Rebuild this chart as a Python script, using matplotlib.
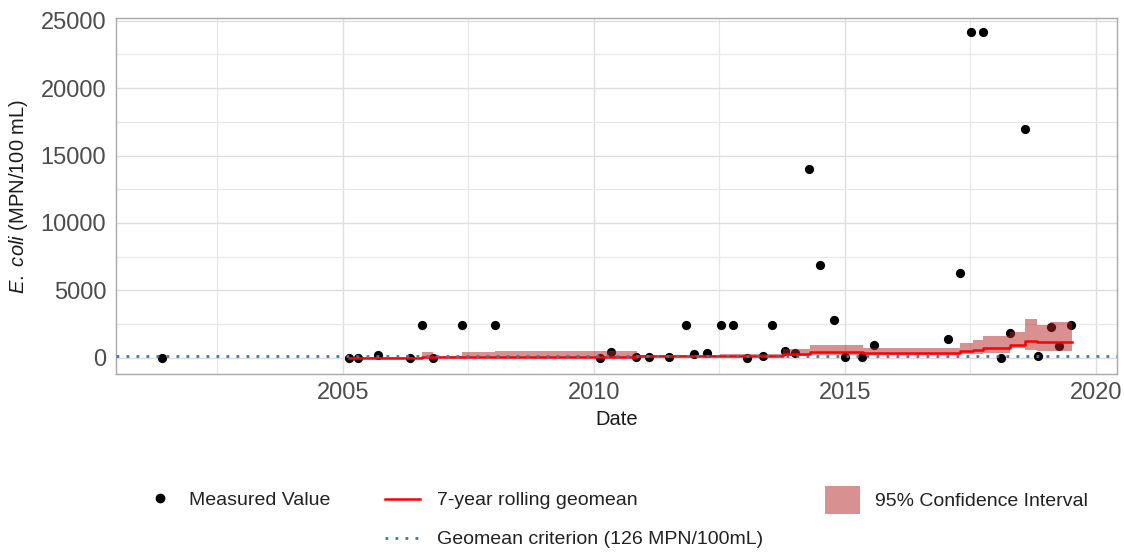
import matplotlib
matplotlib.use("Agg")
import matplotlib.pyplot as plt
from matplotlib.lines import Line2D
from matplotlib.patches import Patch
from matplotlib.ticker import MultipleLocator

plt.rcParams['font.family'] = ['Liberation Sans', 'DejaVu Sans']
plt.rcParams['mathtext.fontset'] = 'custom'
plt.rcParams['mathtext.rm'] = 'Liberation Sans'
plt.rcParams['mathtext.it'] = 'Liberation Sans:italic'

# measured E. coli samples (decimal year, MPN/100 mL)
meas_year = [2001.4, 2005.12, 2005.3, 2005.7, 2006.33, 2006.57, 2006.8, 2007.37, 2008.03,
             2010.12, 2010.34, 2010.84, 2011.1, 2011.5, 2011.83, 2012.0, 2012.25, 2012.53,
             2012.77, 2013.05, 2013.37, 2013.55, 2013.8, 2014.0, 2014.28, 2014.5, 2014.78,
             2015.0, 2015.35, 2015.58, 2017.05, 2017.3, 2017.52, 2017.76, 2018.1, 2018.28,
             2018.58, 2018.84, 2019.1, 2019.27, 2019.5]
meas_val = [10, 10, 10, 220, 20, 2420, 10, 2420, 2420,
            20, 440, 30, 30, 30, 2420, 300, 370, 2420,
            2420, 10, 100, 2420, 520, 370, 14000, 6900, 2800,
            30, 80, 960, 1400, 6300, 24196, 24196, 20, 1850,
            17000, 150, 2300, 890, 2420]

# 7-year rolling geomean and its 95% CI, as steps
step_year = [2005.12, 2006.57, 2006.8, 2007.37, 2008.03, 2010.85, 2012.51, 2013.77, 2014.3,
             2015.36, 2017.29, 2017.56, 2017.76, 2018.29, 2018.59, 2018.82, 2019.08, 2019.52]
geomean = [20, 60, 30, 60, 90, 100, 150, 300, 460, 370, 530, 600, 730, 950, 1250, 1180, 1180, 1180]
ci_low = [5, 10, 10, 10, 20, 30, 60, 120, 200, 180, 250, 300, 350, 700, 550, 530, 530, 530]
ci_high = [80, 450, 100, 420, 470, 200, 300, 650, 950, 750, 1100, 1300, 1600, 1900, 2850, 2400, 2650, 2650]

criterion = 126

fig = plt.figure(figsize=(11.24, 5.52), dpi=100)
ax = fig.add_axes([116 / 1124, 1 - 374 / 552, (1117 - 116) / 1124, (374 - 18) / 552])

ax.scatter(meas_year, meas_val, s=44, color='black', zorder=3, linewidths=0)
ax.fill_between(step_year, ci_low, ci_high, step='post', color='#b22222', alpha=0.5,
                linewidth=0, zorder=4)
ax.plot(step_year, geomean, drawstyle='steps-post', color='red', lw=1.8, zorder=5)
ax.axhline(criterion, color='#3f78b0', lw=2.0, linestyle=(0, (1, 2.6)), zorder=6)

ax.set_xlim(2000.48, 2020.42)
ax.set_ylim(-1200, 25200)
ax.xaxis.set_major_locator(MultipleLocator(5))
ax.xaxis.set_minor_locator(MultipleLocator(2.5))
ax.yaxis.set_major_locator(MultipleLocator(5000))
ax.yaxis.set_minor_locator(MultipleLocator(2500))
ax.grid(which='major', color='#dedede', lw=1.0, zorder=0)
ax.grid(which='minor', color='#e8e8e8', lw=0.9, zorder=0)
ax.set_axisbelow(True)
for s in ax.spines.values():
    s.set_color('#a8a8a8')
    s.set_linewidth(1.0)
ax.tick_params(which='both', length=0, labelsize=17, labelcolor='#4d4d4d')
ax.tick_params(axis='x', pad=6)
ax.tick_params(axis='y', pad=7)

ax.set_xlabel('Date', fontsize=14.5, color='#1a1a1a', labelpad=4)
ax.set_ylabel(r'$\mathit{E.\ coli}$ (MPN/100 mL)', fontsize=14.5, color='#1a1a1a', labelpad=8)

# legends, laid out like the original
h1 = [Line2D([], [], ls='none', marker='o', ms=6, color='black')]
leg1 = fig.legend(h1, ['Measured Value'], loc='center left',
                  bbox_to_anchor=(150 / 1124, 1 - 500 / 552), frameon=False, fontsize=14,
                  handlelength=1.0, handletextpad=1.0, borderpad=0, borderaxespad=0)
for t in leg1.get_texts():
    t.set_color('#222222')

h2 = [Line2D([], [], color='red', lw=1.8),
      Line2D([], [], color='#3f78b0', lw=2.0, linestyle=(0, (1, 2.6)))]
leg2 = fig.legend(h2, ['7-year rolling geomean', 'Geomean criterion (126 MPN/100mL)'],
                  loc='center left', bbox_to_anchor=(385 / 1124, 1 - 520 / 552),
                  frameon=False, fontsize=14, handlelength=1.8, handletextpad=0.85,
                  labelspacing=1.1, borderpad=0, borderaxespad=0)
for t in leg2.get_texts():
    t.set_color('#222222')

h3 = [Patch(facecolor='#b22222', alpha=0.5, edgecolor='none')]
leg3 = fig.legend(h3, ['95% Confidence Interval'], loc='center left',
                  bbox_to_anchor=(825 / 1124, 1 - 500 / 552), frameon=False, fontsize=14,
                  handlelength=1.8, handleheight=1.8, handletextpad=0.75,
                  borderpad=0, borderaxespad=0)
for t in leg3.get_texts():
    t.set_color('#222222')

fig.savefig('out.png', dpi=100)
